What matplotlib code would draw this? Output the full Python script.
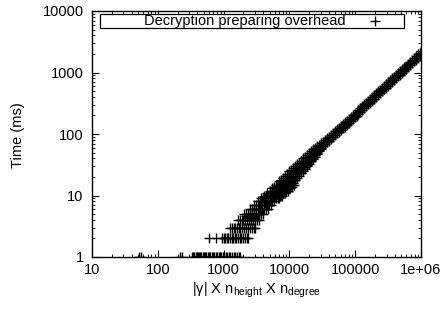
import matplotlib
matplotlib.use("Agg")
import matplotlib.pyplot as plt
from matplotlib.patches import Rectangle
from matplotlib.ticker import FixedLocator, FixedFormatter, LogLocator, NullFormatter

plt.rcParams['font.family'] = ['Liberation Sans', 'DejaVu Sans']
plt.rcParams['mathtext.fontset'] = 'custom'
plt.rcParams['mathtext.rm'] = 'Liberation Sans'
plt.rcParams['mathtext.it'] = 'Liberation Sans'

# ---------------- data ----------------
# quantised low range: time value -> product values observed on that row
row_1 = [52, 55, 217, 234, 330, 345, 360, 375, 390, 405, 420, 440, 460, 480, 500,
         520, 545, 570, 600, 630, 660, 690, 720, 760, 800, 840, 880, 920, 970,
         1020, 1080, 1140, 1200, 1270, 1340, 1420, 1500, 1600, 1700, 1780]
row_2 = [610, 767, 950, 1000, 1060, 1120, 1180, 1250, 1320, 1400, 1480, 1560,
         1650, 1750, 1850, 1980, 2100, 2230, 2360]
row_3 = [1250, 1330, 1420, 1500, 1600, 1700, 1800, 1920, 2050, 2200, 2350, 2500,
         2680, 2850, 3000]
row_4 = [1650, 1760, 1880, 2000, 2150, 2300, 2450, 2600, 2800, 3000, 3200, 3450]
row_5 = [2050, 2200, 2350, 2500, 2700, 2900, 3100, 3300, 3500, 3750, 4000]
row_6 = [2500, 2700, 2900, 3100, 3300, 3550, 3800, 4100, 4400, 4700]
row_7 = [2900, 3150, 3400, 3650, 3900, 4200, 4500, 4850, 5200]
row_8 = [3300, 3550, 3800, 4100, 4400, 4750, 5100, 5500, 5900]
row_9 = [3700, 4000, 4300, 4650, 5000, 5400, 5800, 6300, 6800]
row_10 = [4100, 4450, 4800, 5200, 5600, 6100, 6600, 7100, 7700]
row_11 = [4600, 5000, 5400, 5800, 6300, 6800, 7400, 8000, 8600]
row_12 = [5000, 5400, 5900, 6400, 6900, 7500, 8100, 8800, 9500]
row_13 = [5400, 5900, 6400, 6900, 7500, 8100, 8800, 9500, 10300]
row_14 = [5900, 6400, 6900, 7500, 8100, 8800, 9500, 10300, 11000]
row_15 = [6300, 6800, 7400, 8000, 8700, 9400, 10200, 11000, 11800]
rows = {1: row_1, 2: row_2, 3: row_3, 4: row_4, 5: row_5, 6: row_6, 7: row_7,
        8: row_8, 9: row_9, 10: row_10, 11: row_11, 12: row_12, 13: row_13,
        14: row_14, 15: row_15}

# dense band: product values and the upper / middle / lower times seen there
band_x = [7000, 7500, 8000, 8600, 9200, 10000, 10700, 11500, 12300, 13200, 14100,
          15100, 16200, 17400, 18600, 20000, 21400, 23000, 24600, 26300, 28200,
          30200, 32400, 34700, 37200, 39800, 42700, 45700, 49000, 52500, 56200,
          60300, 64600, 69200, 74100, 79400, 85100, 91200, 97700, 104700, 112200,
          120200, 128800, 138000, 147900, 158500, 169800, 182000, 195000, 208900,
          223900, 239900, 257000, 275400, 295100, 316200, 338800, 363100, 389000,
          416900, 446700, 478600, 512900, 549500, 588800, 631000, 676100, 724400,
          776200, 831800, 891300, 955000, 1000000]
band_hi = [17, 18, 19, 21, 22, 25, 26, 28, 30, 32, 34, 37, 40, 43, 46, 50, 53, 57,
           60, 63, 67, 72, 74, 80, 85, 91, 98, 104, 112, 119, 127, 136, 145, 155,
           165, 176, 188, 201, 215, 230, 247, 264, 283, 304, 325, 349, 374, 400,
           429, 460, 493, 528, 566, 606, 650, 696, 746, 800, 857, 918, 984, 1054,
           1130, 1210, 1297, 1390, 1490, 1596, 1711, 1834, 1965, 2106, 2200]
band_mid = [13, 14, 15, 16, 17, 19, 20, 22, 24, 25, 27, 29, 32, 35, 37, 40, 44, 47,
            51, 55, 59, 64, 68, 73, 79, 84, 90, 96, 103, 110, 118, 126, 134, 143,
            152, 163, 175, 187, 200, 214, 230, 246, 264, 283, 304, 326, 349, 374,
            401, 430, 461, 494, 530, 568, 609, 652, 699, 750, 804, 862, 924, 990,
            1062, 1138, 1220, 1308, 1402, 1503, 1611, 1728, 1852, 1986, 2080]
band_lo = [9, 10, 11, 12, 13, 14, 15, 16, 18, 19, 21, 23, 25, 27, 30, 33, 36, 39,
           43, 47, 52, 57, 63, 68, 73, 78, 83, 89, 95, 102, 109, 116, 124, 132,
           141, 151, 162, 173, 186, 199, 214, 229, 245, 263, 282, 302, 324, 348,
           374, 401, 430, 461, 494, 530, 568, 609, 653, 700, 751, 806, 864, 927,
           994, 1066, 1143, 1226, 1315, 1410, 1512, 1622, 1740, 1866, 1960]
# the wider part of the band (first 22 product values) has two more times each
wide_q1 = [15, 16, 17, 18, 19, 21, 22, 24, 26, 28, 30, 32, 34, 37, 40, 43, 46, 49,
           53, 56, 60, 65]
wide_q2 = [11, 12, 12, 13, 14, 16, 17, 18, 19, 21, 23, 25, 27, 29, 31, 35, 38, 42,
           46, 50, 55, 60]

series_label = "Decryption preparing overhead"
x_ticks = [10, 100, 1000, 10000, 100000, 1000000]
x_tick_labels = ["10", "100", "1000", "10000", "100000", "1e+06"]
y_ticks = [1, 10, 100, 1000, 10000]
y_tick_labels = ["1", "10", "100", "1000", "10000"]

# ---------------- assemble points ----------------
xs, ys = [], []
for t, prods in rows.items():
    xs += prods
    ys += [t] * len(prods)
for col in (band_hi, band_mid, band_lo):
    xs += band_x
    ys += col
for col in (wide_q1, wide_q2):
    xs += band_x[:len(col)]
    ys += col

# ---------------- figure ----------------
fig = plt.figure(figsize=(4.46, 3.12), dpi=100)
ax = fig.add_axes([92 / 446, 1 - 257 / 312, 329 / 446, 246 / 312])
ax.set_xscale('log')
ax.set_yscale('log')
ax.set_xlim(10, 1e6)
ax.set_ylim(1, 1e4)

ax.plot(xs, ys, linestyle='none', marker='+', color='black',
        markersize=7, markeredgewidth=1.0, clip_on=True)

for s in ax.spines.values():
    s.set_linewidth(1.0)

ax.xaxis.set_major_locator(FixedLocator(x_ticks))
ax.xaxis.set_major_formatter(FixedFormatter(x_tick_labels))
ax.yaxis.set_major_locator(FixedLocator(y_ticks))
ax.yaxis.set_major_formatter(FixedFormatter(y_tick_labels))
ax.xaxis.set_minor_locator(LogLocator(base=10, subs=range(2, 10)))
ax.yaxis.set_minor_locator(LogLocator(base=10, subs=range(2, 10)))
ax.xaxis.set_minor_formatter(NullFormatter())
ax.yaxis.set_minor_formatter(NullFormatter())
ax.tick_params(which='both', direction='in', top=True, right=True,
               labelsize=10.5, colors='black')
ax.tick_params(which='major', length=5, width=0.8)
ax.tick_params(which='minor', length=2.5, width=0.6)
ax.tick_params(axis='x', pad=4)
ax.tick_params(axis='y', pad=6)

ax.set_xlabel('|γ| X n$_{\\mathrm{height}}$ X n$_{\\mathrm{degree}}$', fontsize=10.5)
ax.set_ylabel('Time (ms)', fontsize=10.5, va='center')
ax.xaxis.set_label_coords(0.5, -0.095)
ax.yaxis.set_label_coords(-0.225, 0.496)

# key box (gnuplot style)
ax.add_patch(Rectangle((0.0243, 0.931), 0.924, 0.057, transform=ax.transAxes,
                       facecolor='white', edgecolor='black', linewidth=0.9,
                       zorder=5, clip_on=False))
ax.text(0.772, 0.959, series_label, transform=ax.transAxes, ha='right',
        va='center', fontsize=10.5, zorder=6)
ax.plot([0.860], [0.959], transform=ax.transAxes, marker='+', color='black',
        markersize=7, markeredgewidth=1.0, linestyle='none', zorder=6)

fig.savefig('out.png', dpi=100)
